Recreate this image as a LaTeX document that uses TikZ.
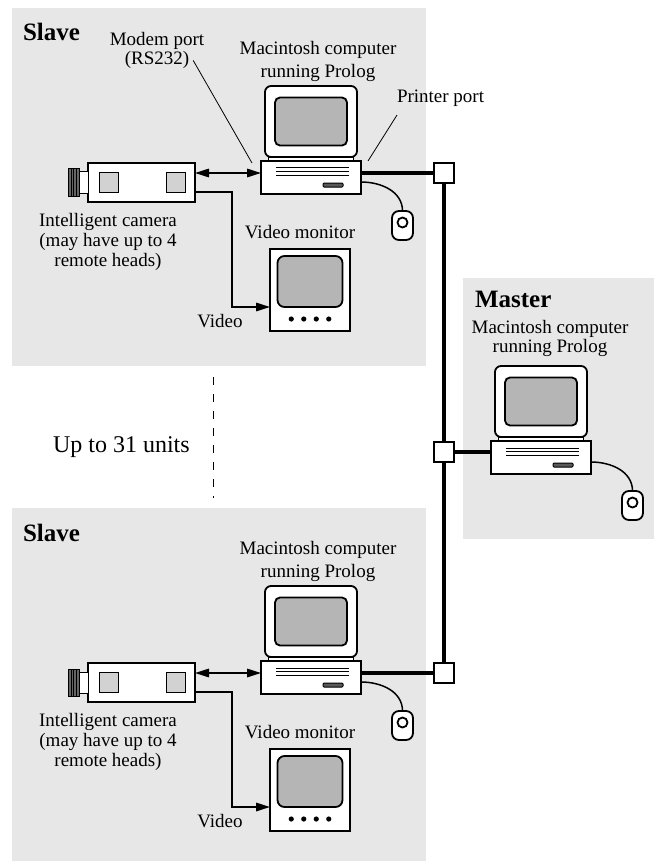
\documentclass[tikz,border=0pt]{standalone}
\usepackage{fontspec}
\setmainfont{Liberation Serif}
\usepackage{tikz}
\usetikzlibrary{positioning,arrows.meta}

\newcommand\lbl{\fontsize{19}{20}\selectfont}
% a Macintosh: #1 name, (#2,#3) centre of the base unit
\newcommand\macpc[3]{%
  \node[pcbase] (#1) at (#2,#3) {};
  \node[pcstand,above=0pt of #1] (#1-stand) {};
  \node[pcmon,above=0pt of #1-stand] (#1-mon) {};
  \node[pcscreen] at (#1-mon) {};
  \draw[thinline] ([xshift=-35pt,yshift=-7pt]#1.north) -- ++(73,0)
                  ([xshift=-35pt,yshift=-10.5pt]#1.north) -- ++(73,0)
                  ([xshift=-35pt,yshift=-14.5pt]#1.north) -- ++(73,0);
  \node[pcslot] at ([xshift=22pt,yshift=-7.5pt]#1.center) {};
  \node[mouse] (#1-mouse) at ([xshift=91.5pt,yshift=-48pt]#1.center) {};
  \draw[box] ([yshift=3pt]#1-mouse.center) circle (5pt);
  \draw[cable] ([yshift=-4.5pt]#1.east) to[out=0,in=90] (#1-mouse.north);
}

\begin{document}
\begin{tikzpicture}[x=1pt,y=-1pt,
  every node/.style={inner sep=0pt,outer sep=0pt},
  panel/.style={fill=gray!19},
  box/.style={draw,line width=1.8pt,fill=white},
  pcbase/.style={box,minimum width=100pt,minimum height=33pt},
  pcstand/.style={box,minimum width=85pt,minimum height=4pt},
  pcmon/.style={box,rounded corners=6pt,minimum width=92pt,minimum height=71pt},
  pcscreen/.style={box,fill=gray!58,rounded corners=5pt,minimum width=72pt,minimum height=48pt},
  pcslot/.style={draw,line width=1pt,fill=black!65,rounded corners=1pt,minimum width=20pt,minimum height=4pt},
  mouse/.style={box,rounded corners=7pt,minimum width=21pt,minimum height=29pt},
  thinline/.style={line width=1pt},
  cable/.style={line width=1.5pt},
  window/.style={draw,line width=1pt,fill=gray!35,minimum width=19pt,minimum height=20pt},
  tvbox/.style={box,minimum width=80pt,minimum height=82pt},
  tvscreen/.style={box,fill=gray!58,rounded corners=7pt,minimum width=65pt,minimum height=51pt},
  tap/.style={draw,line width=1.5pt,fill=white,minimum size=20pt},
  bus/.style={line width=4.5pt},
  link/.style={line width=1.6pt},
  arr/.style={-{Triangle[length=14pt,width=8.5pt]}},
  dbl/.style={{Triangle[length=14pt,width=8.5pt]}-{Triangle[length=14pt,width=8.5pt]}},
  leader/.style={line width=0.8pt},
  title/.style={font=\fontsize{25}{25}\selectfont\bfseries},
  big/.style={font=\fontsize{24}{24}\selectfont}]

\useasboundingbox (0,0) rectangle (654,861);

% shaded areas
\fill[panel] (12,8) rectangle (426,366);
\fill[panel] (12,508) rectangle (426,866);
\fill[panel] (463,278) rectangle (654,539);

% the two slave units
\foreach \u/\dy in {1/0,2/500}{
  \node[title,anchor=base west] at (23,41+\dy) {Slave};
  \node[font=\lbl,align=center] at (318,61+\dy)
    {Macintosh computer\\[3pt]running Prolog};
  \macpc{pc\u}{311}{177.5+\dy}

  % camera
  \node[box,minimum width=107pt,minimum height=39pt] (cam\u) at (141.5,182.5+\dy) {};
  \node[draw,line width=1pt,fill=white,minimum width=9pt,minimum height=21pt,
        left=0pt of cam\u] (lens\u) {};
  \node[draw,line width=1pt,fill=black!60,minimum width=11pt,minimum height=27pt,
        left=0pt of lens\u] (grip\u) {};
  \foreach \k in {-2.5,0,2.5}
    \draw[line width=0.6pt] ([xshift=\k pt]grip\u.north) -- ([xshift=\k pt]grip\u.south);
  \node[window] at ([xshift=-33pt]cam\u.center) {};
  \node[window] at ([xshift=34pt]cam\u.center) {};
  \node[font=\lbl,align=center] at (108,241.5+\dy)
    {Intelligent camera\\(may have up to 4\\remote heads)};

  % video monitor
  \node[tvbox] (vmon\u) at (310,290+\dy) {};
  \node[tvscreen] at ([yshift=8.5pt]vmon\u.center) {};
  \foreach \k in {-18.75,-6.25,6.25,18.75}
    \fill ([xshift=\k pt,yshift=-29pt]vmon\u.center) circle (2.6pt);
  \node[font=\lbl,anchor=base] at (300,238.5+\dy) {Video monitor};
  \node[font=\lbl,anchor=base] at (220,327+\dy) {Video};

  % serial link and video cable
  \draw[link,dbl] ([yshift=9.5pt]cam\u.east) -- ([yshift=9.5pt]cam\u.east -| pc\u.west);
  \coordinate (bend\u) at (232,307+\dy);
  \draw[link,arr] ([yshift=-9.5pt]cam\u.east) -| (bend\u) -- (bend\u -| vmon\u.west);
}

% port labels
\node[font=\lbl,anchor=base] (modem) at (157,46) {Modem port};
\node[font=\lbl,anchor=base] (rs232) at (157,65) {(RS232)};
\draw[leader] ([xshift=4pt]rs232.east) -- ([xshift=-9pt,yshift=-2pt]pc1.north west);
\node[font=\lbl,anchor=base west] (printer) at (397,103) {Printer port};
\draw[leader] ([yshift=-8pt]printer.south west) -- ([xshift=7pt]pc1.north east);

% master
\node[title,anchor=base west] at (475,307) {Master};
\node[font=\lbl,align=center] at (550,338)
  {Macintosh computer\\[-1pt]running Prolog};
\macpc{pc-m}{541}{457.5}

% "more units" marker
\draw[line width=1pt,dash pattern=on 8pt off 9pt] (213,377) -- (213,498);
\node[big,anchor=base west] at (53,452.5) {Up to 31 units};

% network
\node[tap] (tap1) at (444,173) {};
\node[tap] (tap-m) at (444,452) {};
\node[tap] (tap2) at (444,673) {};
\draw[bus] (tap1.south) -- (tap-m.north) (tap-m.south) -- (tap2.north);
\draw[bus] (pc1.east |- tap1) -- (tap1.west);
\draw[bus] (pc2.east |- tap2) -- (tap2.west);
\draw[bus] (tap-m.east) -- (tap-m -| pc-m.west);
\end{tikzpicture}
\end{document}
